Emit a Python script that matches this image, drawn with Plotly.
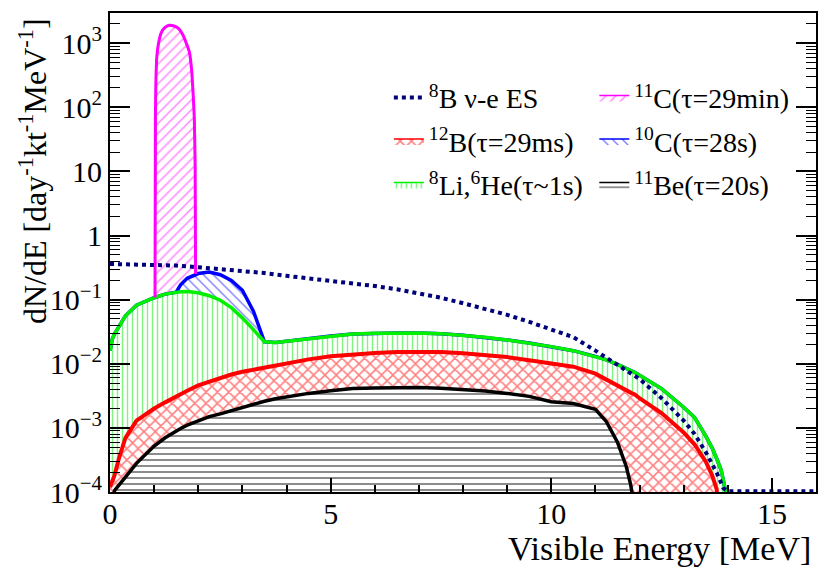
import plotly.graph_objects as go

# ---------------- data ----------------
# common energy grid (MeV) for the stacked histograms
energy = [0.0, 0.05, 0.1, 0.2, 0.35, 0.6, 1.0, 1.25, 1.5, 1.6, 1.75, 2.0, 2.25, 2.5,
          2.75, 3.0, 3.25, 3.5, 3.75, 4.0, 4.5, 5.0, 5.5, 6.0, 6.5, 7.0, 7.5, 8.0,
          8.5, 9.0, 9.5, 10.0, 10.5, 11.0, 11.25, 11.5, 11.7, 11.8, 11.9, 12.0,
          12.5, 13.0, 13.25, 13.5, 13.65, 13.75, 13.85, 13.95, 14.05, 15.0, 16.0]

# 11Be (bottom of stack)
be11 = [1e-5, 6e-5, 1.05e-4, 1.3e-4, 1.7e-4, 2.8e-4, 5.2e-4, 7.0e-4, 9.0e-4, 9.8e-4,
        1.1e-3, 1.3e-3, 1.5e-3, 1.65e-3, 1.85e-3, 2.1e-3, 2.35e-3, 2.6e-3, 2.85e-3,
        3.05e-3, 3.45e-3, 3.8e-3, 4.1e-3, 4.2e-3, 4.25e-3, 4.25e-3, 4.15e-3, 4.0e-3,
        3.75e-3, 3.45e-3, 3.1e-3, 2.55e-3, 2.4e-3, 1.95e-3, 1.25e-3, 6.0e-4, 2.5e-4,
        1.3e-4, 5e-5, 1e-5, 1e-5, 1e-5, 1e-5, 1e-5, 1e-5, 1e-5, 1e-5, 1e-5, 1e-5,
        1e-5, 1e-5]

# 12B + 11Be (stacked total)
b12_total = [1.2e-4, 1.5e-4, 1.8e-4, 3.3e-4, 7.0e-4, 1.3e-3, 2.0e-3, 2.5e-3, 3.1e-3,
             3.4e-3, 3.8e-3, 4.6e-3, 5.3e-3, 6.0e-3, 6.8e-3, 7.5e-3, 8.1e-3, 8.8e-3,
             9.5e-3, 0.0103, 0.0117, 0.0131, 0.0141, 0.0147, 0.0152, 0.0155, 0.0153,
             0.0146, 0.0137, 0.0127, 0.0113, 0.0100, 0.0090, 0.0070, 5.6e-3, 4.6e-3,
             3.8e-3, 3.55e-3, 3.3e-3, 2.9e-3, 1.7e-3, 8.5e-4, 5.5e-4, 3.0e-4, 1.8e-4,
             1.1e-4, 1e-5, 1e-5, 1e-5, 1e-5, 1e-5]

# 8Li,6He + below (stacked total)
li8_total = [0.016, 0.024, 0.029, 0.037, 0.056, 0.082, 0.107, 0.122, 0.131, 0.133,
             0.134, 0.128, 0.115, 0.098, 0.075, 0.052, 0.034, 0.022, 0.0215, 0.0225,
             0.0248, 0.0272, 0.029, 0.030, 0.0303, 0.0302, 0.0295, 0.0278, 0.0258,
             0.0235, 0.021, 0.0185, 0.016, 0.013, 0.0115, 0.0098, 0.0085, 0.0079,
             0.0073, 0.0066, 0.0041, 0.0021, 0.00145, 0.00075, 0.00048, 0.00033,
             0.00022, 1.05e-4, 1e-5, 1e-5, 1e-5]

# 10C stacked total where it rises above the 8Li curve
c10_energy = [1.6, 1.75, 2.0, 2.25, 2.5, 2.75, 3.0, 3.25]
c10_total = [0.17, 0.215, 0.255, 0.27, 0.245, 0.2, 0.14, 0.066]

# 11C peak (stacked total)
c11_energy = [1.02, 1.03, 1.04, 1.06, 1.10, 1.16, 1.24, 1.34, 1.45, 1.55, 1.65, 1.74,
              1.80, 1.85, 1.88, 1.91, 1.93, 1.94]
c11_total = [0.108, 80, 250, 600, 1000, 1450, 1750, 1900, 1850, 1700, 1350, 950,
             720, 380, 180, 70, 12, 0.25]

# 8B nu-e elastic scattering
es_energy = [0.0, 0.5, 1.0, 1.5, 2.0, 2.5, 3.0, 3.5, 4.0, 4.5, 5.0, 5.5, 6.0, 6.5, 7.0,
             7.5, 8.0, 8.5, 9.0, 9.5, 10.0, 10.5, 11.0, 11.5, 12.0, 12.5, 13.0, 13.25,
             13.5, 13.75, 13.9, 14.0, 15.0, 16.0]
es_rate = [0.36, 0.355, 0.35, 0.34, 0.32, 0.30, 0.28, 0.26, 0.235, 0.215, 0.19, 0.178,
           0.163, 0.145, 0.125, 0.107, 0.088, 0.072, 0.058, 0.045, 0.034, 0.026, 0.016,
           0.0098, 0.0058, 0.0029, 0.0013, 8e-4, 4.2e-4, 2e-4, 1.15e-4, 1.03e-4,
           1.03e-4, 1.03e-4]

names = {
    "es": "<sup>8</sup>B ν-e ES",
    "c11": "<sup>11</sup>C(τ=29min)",
    "b12": "<sup>12</sup>B(τ=29ms)",
    "c10": "<sup>10</sup>C(τ=28s)",
    "li8": "<sup>8</sup>Li,<sup>6</sup>He(τ~1s)",
    "be11": "<sup>11</sup>Be(τ=20s)",
}

x_tickvals = [0, 5, 10, 15]
x_ticktext = ["0", "5", "10", "15"]
y_tickvals = [1e-4, 1e-3, 1e-2, 1e-1, 1, 10, 100, 1000]
y_ticktext = ["10<sup>−4</sup>", "10<sup>−3</sup>", "10<sup>−2</sup>", "10<sup>−1</sup>",
              "1", "10", "10<sup>2</sup>", "10<sup>3</sup>"]

# ---------------- derived stacked curves ----------------
floor = [1e-5] * len(energy)
c10_full = list(li8_total)
for e, v in zip(c10_energy, c10_total):
    c10_full[energy.index(e)] = v

FONT = "Liberation Serif, Times New Roman, serif"
NAVY = "#00007a"
GREEN = "#00f000"


def band(upper, lower):
    return energy + energy[::-1], upper + lower[::-1]


fig = go.Figure()


def add_band(xs, ys, color, shape, size, solidity, key, legend, rank):
    fig.add_trace(go.Scatter(
        x=xs, y=ys, mode="lines", fill="toself",
        line=dict(color=color, width=1.5),
        fillcolor="rgba(255,255,255,0)",
        fillpattern=dict(shape=shape, fgcolor=color, bgcolor="rgba(255,255,255,0)",
                         size=size, solidity=solidity, fillmode="overlay"),
        name=names[key], legend=legend, legendrank=rank, legendgroup=key,
        hoverinfo="skip"))


bx, by = band(be11, floor)
add_band(bx, by, "black", "-", 6, 0.3, "be11", "legend2", 3)
bx, by = band(b12_total, be11)
add_band(bx, by, "#ff0000", "x", 8, 0.35, "b12", "legend", 2)
bx, by = band(li8_total, b12_total)
add_band(bx, by, GREEN, "|", 5, 0.28, "li8", "legend", 3)
bx, by = band(c10_full, li8_total)
add_band(bx, by, "#0000ff", "\\", 7, 0.2, "c10", "legend2", 2)

inner = [(e, v) for e, v in zip(energy, c10_full) if c11_energy[0] < e < c11_energy[-1]]
c11_x = c11_energy + [e for e, _ in inner][::-1]
c11_y = c11_total + [v for _, v in inner][::-1]
add_band(c11_x, c11_y, "#ff00ff", "/", 7, 0.2, "c11", "legend2", 1)

# outline curves
for ys, color, w in [(be11, "black", 3.5), (b12_total, "#ff0000", 4),
                     (c10_full, "#0000ff", 3.5), (li8_total, GREEN, 3.5)]:
    fig.add_trace(go.Scatter(x=energy, y=ys, mode="lines",
                             line=dict(color=color, width=w),
                             showlegend=False, hoverinfo="skip"))
fig.add_trace(go.Scatter(x=c11_energy, y=c11_total, mode="lines",
                         line=dict(color="#ff00ff", width=3, shape="spline", smoothing=0.4),
                         showlegend=False, hoverinfo="skip"))
fig.add_trace(go.Scatter(x=es_energy, y=es_rate, mode="lines",
                         line=dict(color=NAVY, width=4, dash="4px,4px"),
                         name=names["es"], legend="legend", legendrank=1,
                         legendgroup="es", hoverinfo="skip"))

minor_y = [m * 10 ** k for k in range(-4, 4) for m in range(2, 10)]

legend_common = dict(xanchor="left", yanchor="top", bgcolor="rgba(0,0,0,0)",
                     font=dict(family=FONT, size=28, color="black"), tracegroupgap=4,
                     itemwidth=30, traceorder="grouped")

fig.update_layout(
    width=823, height=567,
    margin=dict(l=110, r=5, t=13, b=75),
    paper_bgcolor="white", plot_bgcolor="white",
    font=dict(family=FONT, color="black", size=28),
    xaxis=dict(range=[0, 16], tickmode="array", tickvals=x_tickvals, ticktext=x_ticktext,
               ticks="inside", ticklen=14, tickwidth=1.5, tickcolor="black",
               ticklabelstandoff=-6,
               minor=dict(tickmode="linear", tick0=0, dtick=1, ticks="inside",
                          ticklen=7, tickwidth=1.5, tickcolor="black"),
               showline=True, linecolor="black", linewidth=2, mirror=True,
               showgrid=False, zeroline=False,
               tickfont=dict(family=FONT, size=30, color="black")),
    yaxis=dict(type="log", range=[-4, 3.47], tickmode="array", tickvals=y_tickvals,
               ticktext=y_ticktext, ticks="inside", ticklen=20, tickwidth=1.5,
               tickcolor="black",
               minor=dict(tickmode="array", tickvals=minor_y, ticks="inside",
                          ticklen=10, tickwidth=1.2, tickcolor="black"),
               showline=True, linecolor="black", linewidth=2, mirror="ticks",
               showgrid=False, zeroline=False,
               tickfont=dict(family=FONT, size=30, color="black")),
    showlegend=True,
    legend=dict(x=0.395, y=0.875, **legend_common),
    legend2=dict(x=0.686, y=0.875, **legend_common),
    annotations=[
        dict(text="dN/dE [day<sup>-1</sup>kt<sup>-1</sup>MeV<sup>-1</sup>]",
             xref="paper", yref="paper", x=-0.109, y=0.67, textangle=-90,
             xanchor="center", yanchor="middle", showarrow=False,
             font=dict(family=FONT, size=32, color="black")),
        dict(text="Visible Energy [MeV]", xref="paper", yref="paper",
             x=0.996, y=-0.117, xanchor="right", yanchor="middle", showarrow=False,
             font=dict(family=FONT, size=34, color="black")),
    ],
)

fig.write_html("out.html")
